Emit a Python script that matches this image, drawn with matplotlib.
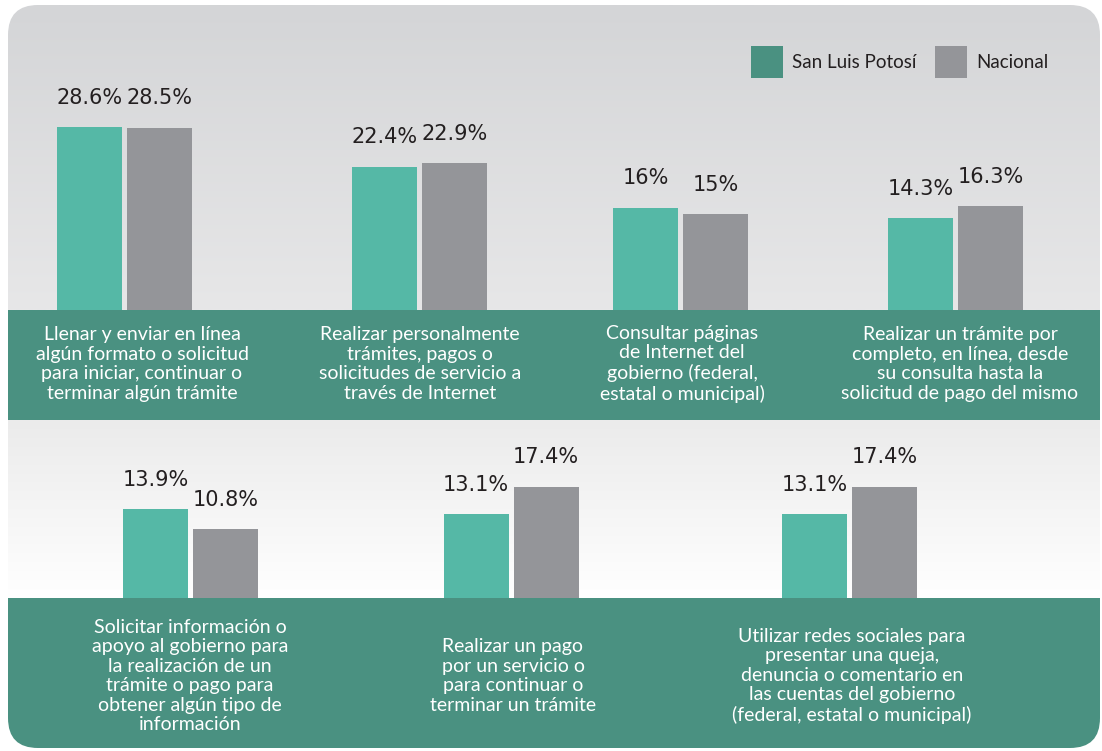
import numpy as np
import matplotlib
matplotlib.use("Agg")
import matplotlib.pyplot as plt
from matplotlib.patches import FancyBboxPatch, Rectangle

W, H = 1102, 751

# Data: percentage of internet users doing each government interaction online
top_categories = [
    "Llenar y enviar en línea\nalgún formato o solicitud\npara iniciar, continuar o\nterminar algún trámite",
    "Realizar personalmente\ntrámites, pagos o\nsolicitudes de servicio a\ntravés de Internet",
    "Consultar páginas\nde Internet del\ngobierno (federal,\nestatal o municipal)",
    "Realizar un trámite por\ncompleto, en línea, desde\nsu consulta hasta la\nsolicitud de pago del mismo",
]
top_slp = [28.6, 22.4, 16, 14.3]
top_nacional = [28.5, 22.9, 15, 16.3]

bottom_categories = [
    "Solicitar información o\napoyo al gobierno para\nla realización de un\ntrámite o pago para\nobtener algún tipo de\ninformación",
    "Realizar un pago\npor un servicio o\npara continuar o\nterminar un trámite",
    "Utilizar redes sociales para\npresentar una queja,\ndenuncia o comentario en\nlas cuentas del gobierno\n(federal, estatal o municipal)",
]
bottom_slp = [13.9, 13.1, 13.1]
bottom_nacional = [10.8, 17.4, 17.4]

series_names = ["San Luis Potosí", "Nacional"]

# Layout (pixels)
top_centers = [124.5, 419.5, 680.5, 955.5]
top_text_x = [142, 420, 682, 960]
bottom_centers = [190.5, 511, 849.5]
bottom_text_x = [190, 513, 852]
px_per_pct = 6.4
bar_w = 65
off = 35

TEAL = "#55b8a6"
GRAY = "#949599"
BAND = "#4a9181"
DARK = "#231f20"

fig = plt.figure(figsize=(W / 100, H / 100), dpi=100)
fig.patch.set_facecolor("white")

# background layer in pixel coordinates
bg = fig.add_axes([0, 0, 1, 1])
bg.set_xlim(0, W)
bg.set_ylim(H, 0)
bg.axis("off")

panel = FancyBboxPatch((8, 5), 1092, 743, boxstyle="round,pad=0,rounding_size=30",
                       facecolor="none", edgecolor="none")
bg.add_patch(panel)


def gradient(y0, y1, c0, c1):
    g = np.linspace(0, 1, 200)[:, None, None]
    img = np.array(c0)[None, None, :] * (1 - g) + np.array(c1)[None, None, :] * g
    im = bg.imshow(img / 255, extent=[8, 1100, y1, y0], aspect="auto", zorder=0)
    im.set_clip_path(panel)


gradient(5, 310, (212, 213, 215), (231, 231, 232))
gradient(420, 598, (235, 235, 235), (255, 255, 255))

for y0, y1 in [(310, 420), (598, 748)]:
    band = Rectangle((8, y0), 1092, y1 - y0, facecolor=BAND, edgecolor="none", zorder=1)
    bg.add_patch(band)
    band.set_clip_path(panel)

# legend
bg.add_patch(Rectangle((751, 46), 32, 32, facecolor=BAND, edgecolor="none", zorder=2))
bg.add_patch(Rectangle((935, 46), 32, 32, facecolor=GRAY, edgecolor="none", zorder=2))
bg.text(792, 62, series_names[0], fontsize=13.5, family="Lato", color=DARK, va="center", ha="left")
bg.text(976, 62, series_names[1], fontsize=13.5, family="Lato", color=DARK, va="center", ha="left")

# category texts
for x, t in zip(top_text_x, top_categories):
    bg.text(x, 364, t, fontsize=14, family="Lato", color="white", ha="center", va="center",
            linespacing=1.18)
for x, t in zip(bottom_text_x, bottom_categories):
    bg.text(x, 676, t, fontsize=14, family="Lato", color="white", ha="center", va="center",
            linespacing=1.18)


def bar_row(bottom_px, top_px, centers, slp, nac):
    ax = fig.add_axes([0, (H - bottom_px) / H, 1, (bottom_px - top_px) / H])
    ax.set_xlim(0, W)
    ax.set_ylim(0, (bottom_px - top_px) / px_per_pct)
    ax.axis("off")
    ax.patch.set_alpha(0)
    xs = np.array(centers)
    b1 = ax.bar(xs - off, slp, width=bar_w, color=TEAL, edgecolor="none")
    b2 = ax.bar(xs + off, nac, width=bar_w, color=GRAY, edgecolor="none")
    for bars, vals in [(b1, slp), (b2, nac)]:
        for rect, v in zip(bars, vals):
            ax.annotate(f"{v:g}%", (rect.get_x() + rect.get_width() / 2, v),
                        xytext=(0, 21), textcoords="offset points",
                        ha="center", va="center", fontsize=15, color=DARK)
    return ax


bar_row(310, 5, top_centers, top_slp, top_nacional)
bar_row(598, 420, bottom_centers, bottom_slp, bottom_nacional)

fig.savefig("out.png", dpi=100)
